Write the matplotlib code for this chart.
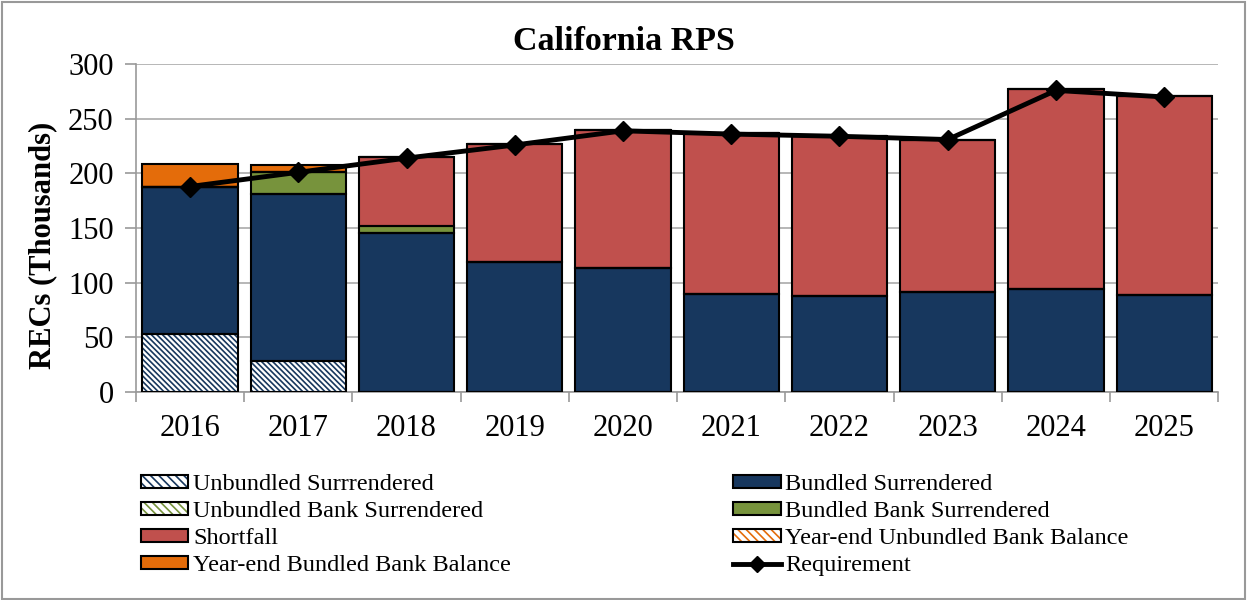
import numpy as np
import matplotlib.pyplot as plt
from matplotlib.patches import Patch, Rectangle
from matplotlib.lines import Line2D
from matplotlib.legend_handler import HandlerTuple

plt.rcParams['font.family'] = ['Liberation Serif', 'DejaVu Serif']
plt.rcParams['hatch.linewidth'] = 1.2

years = ['2016', '2017', '2018', '2019', '2020', '2021', '2022', '2023', '2024', '2025']
unbundled_surr = [53, 28, 0, 0, 0, 0, 0, 0, 0, 0]
bundled_surr = [135, 153, 145, 119, 113, 90, 88, 91, 94, 89]
unbundled_bank_surr = [0, 0, 0, 0, 0, 0, 0, 0, 0, 0]
bundled_bank_surr = [0, 20, 7, 0, 0, 0, 0, 0, 0, 0]
shortfall = [0, 0, 63, 108, 127, 147, 146, 140, 183, 182]
ye_unbundled_bal = [0, 0, 0, 0, 0, 0, 0, 0, 0, 0]
ye_bundled_bal = [21, 7, 0, 0, 0, 0, 0, 0, 0, 0]
requirement = [188, 201, 214, 226, 239, 236, 234, 231, 276, 270]

navy = '#17375E'
green = '#77933C'
red = '#C0504D'
orange = '#E46C0A'
HATCH = '\\\\\\\\\\\\'

fig = plt.figure(figsize=(12.47, 6), dpi=100)
ax = fig.add_axes([0.109, 0.347, 0.868, 0.546])

x = np.arange(len(years))
w = 0.88
bottom = np.zeros(len(years))

series = [
    (unbundled_surr, dict(facecolor='white', hatch=HATCH, edgecolor=navy)),
    (bundled_surr, dict(facecolor=navy)),
    (unbundled_bank_surr, dict(facecolor='white', hatch=HATCH, edgecolor=green)),
    (bundled_bank_surr, dict(facecolor=green)),
    (shortfall, dict(facecolor=red)),
    (ye_unbundled_bal, dict(facecolor='white', hatch=HATCH, edgecolor=orange)),
    (ye_bundled_bal, dict(facecolor=orange)),
]
for vals, st in series:
    vals = np.array(vals, dtype=float)
    ax.bar(x, vals, w, bottom=bottom, zorder=2, linewidth=0, **st)
    # black outline drawn separately so hatch keeps its own colour
    ax.bar(x, vals, w, bottom=bottom, zorder=3, facecolor='none', edgecolor='black', linewidth=1.5)
    bottom += vals

ax.plot(x, requirement, color='black', lw=3.5, marker='D', markersize=10, zorder=5)

ax.set_xlim(-0.5, len(years) - 0.5)
ax.set_ylim(0, 300)
ax.set_yticks(range(0, 301, 50))
ax.set_xticks(x)
ax.set_xticklabels(years)
ax.set_xticks(np.arange(-0.5, len(years), 1), minor=True)
ax.tick_params(axis='x', which='major', length=0, labelsize=22, pad=16)
ax.tick_params(axis='x', which='minor', length=7, color='#999999', width=1.2)
ax.tick_params(axis='y', length=8, color='#999999', width=1.2, labelsize=22, pad=8)
ax.yaxis.grid(True, color='#aaaaaa', lw=1.2, zorder=0)
ax.set_axisbelow(True)
for s in ['top', 'right']:
    ax.spines[s].set_visible(False)
for s in ['left', 'bottom']:
    ax.spines[s].set_color('#999999')
    ax.spines[s].set_linewidth(1.2)

ax.set_ylabel('RECs (Thousands)', fontsize=22, fontweight='bold')
ax.yaxis.set_label_coords(-0.073, 0.448)
fig.text(0.5, 0.931, 'California RPS', ha='center', va='center', fontsize=24.5, fontweight='bold')


def solid(color):
    return Patch(facecolor=color, edgecolor='black', lw=1.5)


def hatched(color):
    return (Patch(facecolor='white', edgecolor=color, hatch='\\\\\\\\', lw=0),
            Patch(facecolor='none', edgecolor='black', lw=1.5))


left_h = [hatched(navy), hatched(green), solid(red), solid(orange)]
left_l = ['Unbundled Surrrendered', 'Unbundled Bank Surrendered', 'Shortfall',
          'Year-end Bundled Bank Balance']
right_h = [solid(navy), solid(green), hatched(orange),
           Line2D([], [], color='black', lw=3.5, marker='D', markersize=8)]
right_l = ['Bundled Surrendered', 'Bundled Bank Surrendered',
           'Year-end Unbundled Bank Balance', 'Requirement']

kw = dict(loc='upper left', frameon=False, fontsize=17.5, handlelength=1.95,
          handleheight=0.45, handletextpad=0.2, labelspacing=0.25, borderpad=0,
          borderaxespad=0, handler_map={tuple: HandlerTuple(ndivide=1, pad=0)})
fig.legend(left_h, left_l, bbox_to_anchor=(0.113, 0.21), **kw)
fig.legend(right_h, right_l, bbox_to_anchor=(0.588, 0.21), **kw)

fig.patches.append(Rectangle((0.002, 0.002), 0.996, 0.995, transform=fig.transFigure,
                             fill=False, edgecolor='#999999', lw=1.5))

fig.savefig('out.png', dpi=100)
